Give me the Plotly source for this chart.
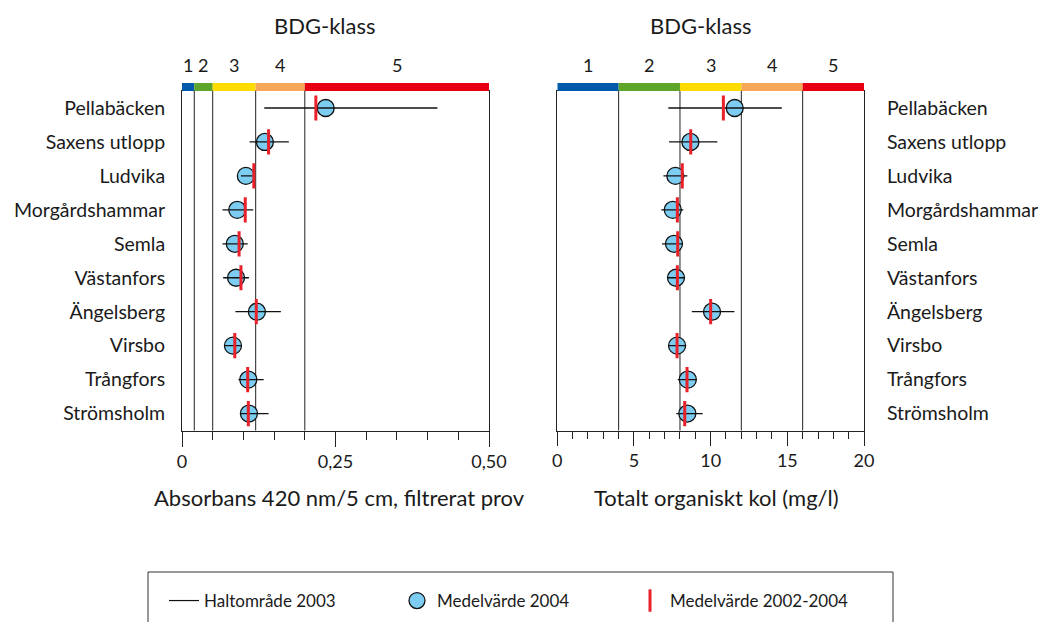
import plotly.graph_objects as go

W, H = 1042, 622

stations = ["Pellabäcken", "Saxens utlopp", "Ludvika", "Morgårdshammar", "Semla",
            "Västanfors", "Ängelsberg", "Virsbo", "Trångfors", "Strömsholm"]

abs_mean2004 = [0.234, 0.135, 0.104, 0.090, 0.086, 0.088, 0.122, 0.083, 0.108, 0.109]
abs_mean0204 = [0.218, 0.141, 0.117, 0.103, 0.093, 0.096, 0.121, 0.086, 0.107, 0.108]
abs_min2003 = [0.134, 0.110, 0.096, 0.066, 0.066, 0.067, 0.087, 0.069, 0.092, 0.095]
abs_max2003 = [0.416, 0.174, 0.115, 0.116, 0.107, 0.109, 0.161, 0.096, 0.133, 0.141]

toc_mean2004 = [11.57, 8.68, 7.70, 7.53, 7.61, 7.74, 10.09, 7.81, 8.51, 8.48]
toc_mean0204 = [10.83, 8.70, 8.15, 7.83, 7.85, 7.83, 10.00, 7.81, 8.46, 8.31]
toc_min2003 = [7.24, 7.29, 6.92, 6.78, 6.83, 7.18, 8.77, 7.24, 7.85, 7.76]
toc_max2003 = [14.64, 10.44, 8.48, 8.22, 8.18, 8.28, 11.55, 8.40, 9.11, 9.48]

abs_class_bounds = [0, 0.02, 0.05, 0.12, 0.20, 0.50]
toc_class_bounds = [0, 4, 8, 12, 16, 20]
class_labels = ["1", "2", "3", "4", "5"]
class_colors = ["#0059a9", "#5fa42b", "#ffdc00", "#f5a957", "#e60012"]

abs_tickvals = [0, 0.25, 0.5]
abs_ticktext = ["0", "0,25", "0,50"]
toc_tickvals = [0, 5, 10, 15, 20]
toc_ticktext = ["0", "5", "10", "15", "20"]

FONT = "Lato"
TXT = "#1a1a1a"
CIRCLE = "#7ccdf1"
RED = "#e8212a"


def px_x(p):
    return p / W


def px_y(p):
    return 1 - p / H


fig = go.Figure()


def range_xy(lo, hi, cats):
    xs, ys = [], []
    for a, b, c in zip(lo, hi, cats):
        xs += [a, b, None]
        ys += [c, c, None]
    return xs, ys


for (xa, ya, mean4, mean024, lo, hi) in [
    ("x", "y", abs_mean2004, abs_mean0204, abs_min2003, abs_max2003),
    ("x2", "y2", toc_mean2004, toc_mean0204, toc_min2003, toc_max2003),
]:
    fig.add_trace(go.Scatter(
        x=mean4, y=stations, xaxis=xa, yaxis=ya, mode="markers",
        marker=dict(symbol="circle", size=17, color=CIRCLE, line=dict(color="#111", width=1.3)),
        name="Medelvärde 2004", showlegend=False))
    xs, ys = range_xy(lo, hi, stations)
    fig.add_trace(go.Scatter(
        x=xs, y=ys, xaxis=xa, yaxis=ya, mode="lines",
        line=dict(color="#111", width=1.3),
        name="Haltområde 2003", showlegend=False))
    fig.add_trace(go.Scatter(
        x=mean024, y=stations, xaxis=xa, yaxis=ya, mode="markers",
        marker=dict(symbol="line-ns", size=18, line=dict(color=RED, width=3)),
        name="Medelvärde 2002-2004", showlegend=False))

# legend-only traces
fig.add_trace(go.Scatter(x=[None], y=[None], mode="lines", line=dict(color="#111", width=1.2),
                         name="Haltområde 2003"))
fig.add_trace(go.Scatter(x=[None], y=[None], mode="markers",
                         marker=dict(symbol="circle", size=16, color=CIRCLE, line=dict(color="#111", width=1.3)),
                         name="Medelvärde 2004"))
fig.add_trace(go.Scatter(x=[None], y=[None], mode="markers",
                         marker=dict(symbol="line-ns", size=16, line=dict(color=RED, width=3)),
                         name="Medelvärde 2002-2004"))

y_dom = [px_y(430.5), px_y(91)]
axis_common = dict(showline=True, linecolor="#222", linewidth=1, mirror=True,
                   showgrid=False, zeroline=False, fixedrange=True, automargin=False)

fig.update_layout(
    width=W, height=H, margin=dict(l=0, r=0, t=0, b=0, autoexpand=False),
    paper_bgcolor="white", plot_bgcolor="white",
    font=dict(family=FONT, size=19, color=TXT),
    xaxis=dict(domain=[px_x(182), px_x(489)], range=[0, 0.5], anchor="y",
               tickmode="array", tickvals=abs_tickvals, ticktext=abs_ticktext,
               ticks="outside", ticklen=15, tickwidth=1, tickcolor="#222",
               minor=dict(tickmode="linear", tick0=0, dtick=0.05, ticks="outside",
                          ticklen=8, tickwidth=1, tickcolor="#222"),
               tickfont=dict(size=18), **axis_common),
    yaxis=dict(domain=y_dom, anchor="x", type="category", categoryarray=stations,
               range=[9.5, -0.5], ticks="", ticklabelstandoff=12,
               tickfont=dict(size=19.5), **axis_common),
    xaxis2=dict(domain=[px_x(557.3), px_x(864)], range=[0, 20], anchor="y2",
                tickmode="array", tickvals=toc_tickvals, ticktext=toc_ticktext,
                ticks="outside", ticklen=14, tickwidth=1, tickcolor="#222",
                minor=dict(tickmode="linear", tick0=0, dtick=1, ticks="outside",
                           ticklen=7, tickwidth=1, tickcolor="#222"),
                tickfont=dict(size=18), **axis_common),
    yaxis2=dict(domain=y_dom, anchor="x2", side="right", type="category", categoryarray=stations,
                range=[9.5, -0.5], ticks="", ticklabelstandoff=18,
                tickfont=dict(size=19.5), **axis_common),
    showlegend=True,
    legend=dict(orientation="h", x=px_x(164), y=px_y(601), xanchor="left", yanchor="middle",
                bgcolor="rgba(0,0,0,0)", borderwidth=0, entrywidth=188,
                font=dict(size=17, color=TXT), traceorder="normal"),
)

shapes = []
annotations = []
for xa, bounds in [("x", abs_class_bounds), ("x2", toc_class_bounds)]:
    for i in range(5):
        shapes.append(dict(type="rect", xref=xa, yref="paper",
                           x0=bounds[i], x1=bounds[i + 1], y0=px_y(91), y1=px_y(83),
                           fillcolor=class_colors[i], line=dict(width=0), layer="above"))
        annotations.append(dict(xref=xa, yref="paper", x=(bounds[i] + bounds[i + 1]) / 2,
                                y=px_y(65), text=class_labels[i], showarrow=False,
                                font=dict(size=18, color=TXT), xanchor="center", yanchor="middle"))
    for b in bounds[1:-1]:
        shapes.append(dict(type="line", xref=xa, yref="paper", x0=b, x1=b,
                           y0=y_dom[0], y1=y_dom[1], line=dict(color="#222", width=1), layer="below"))


def ann(x, y, text, size):
    return dict(xref="paper", yref="paper", x=px_x(x), y=px_y(y), text=text, showarrow=False,
                xanchor="center", yanchor="middle", font=dict(size=size, color=TXT))


annotations += [
    ann(325, 25, "BDG-klass", 22),
    ann(701, 25, "BDG-klass", 22),
    ann(339, 497, "Absorbans 420 nm/5 cm, filtrerat prov", 22),
    ann(716, 497, "Totalt organiskt kol (mg/l)", 22),
]

shapes.append(dict(type="rect", xref="paper", yref="paper", x0=px_x(148), x1=px_x(893),
                   y0=px_y(660), y1=px_y(572), line=dict(color="#333", width=1),
                   fillcolor="rgba(0,0,0,0)"))

fig.update_layout(shapes=shapes, annotations=annotations)

fig.write_html("out.html")
